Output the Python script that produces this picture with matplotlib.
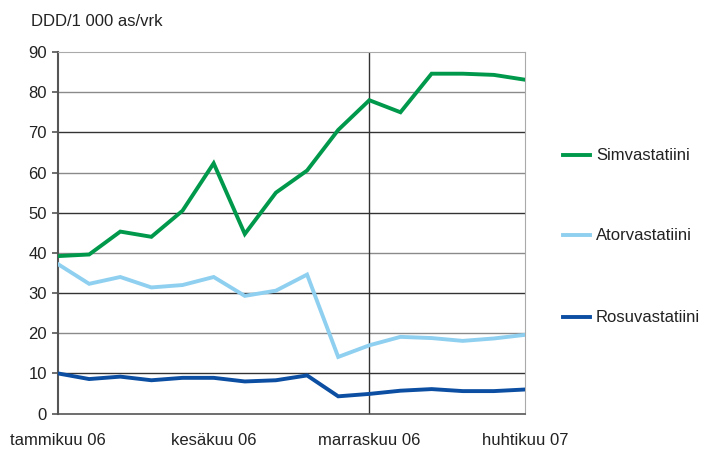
import matplotlib.pyplot as plt

plt.rcParams['font.family'] = ['Liberation Sans', 'DejaVu Sans']

months = list(range(16))
tick_pos = [0, 5, 10, 15]
tick_labels = ['tammikuu 06', 'kesäkuu 06', 'marraskuu 06', 'huhtikuu 07']

simva = [39.2, 39.6, 45.3, 44.0, 50.5, 62.3, 44.7, 55.0, 60.5, 70.6,
         78.0, 75.0, 84.6, 84.6, 84.3, 83.1]
atorva = [37.2, 32.3, 34.0, 31.4, 32.0, 34.0, 29.3, 30.6, 34.6, 14.1,
          17.0, 19.1, 18.8, 18.1, 18.7, 19.6]
rosuva = [10.0, 8.6, 9.2, 8.3, 8.9, 8.9, 8.0, 8.3, 9.5, 4.3,
          4.9, 5.7, 6.1, 5.6, 5.6, 6.0]

fig = plt.figure(figsize=(7.05, 4.5), dpi=100)
ax = fig.add_axes([58 / 705, (450 - 413.6) / 450, (525 - 58) / 705, (413.6 - 52) / 450])

# gridlines alternate darker / lighter like the original
for v in range(10, 90, 10):
    col = '#333333' if (v // 10) % 2 == 1 else '#8a8a8a'
    ax.axhline(v, color=col, lw=1.0, zorder=1)
ax.axvline(10, color='#333333', lw=1.0, zorder=1)

l1, = ax.plot(months, simva, color='#00994C', lw=2.8, zorder=3, solid_joinstyle='miter')
l2, = ax.plot(months, atorva, color='#8FD0F0', lw=2.8, zorder=3, solid_joinstyle='miter')
l3, = ax.plot(months, rosuva, color='#0B4EA2', lw=2.8, zorder=3, solid_joinstyle='miter')

ax.set_xlim(0, 15)
ax.set_ylim(0, 90)
ax.set_yticks(range(0, 91, 10))
ax.set_xticks(tick_pos)
ax.set_xticklabels(tick_labels)
ax.tick_params(axis='y', length=4, width=1.2, color='#555555', labelsize=12, pad=4, labelcolor='#222222')
ax.tick_params(axis='x', length=0, labelsize=12, pad=14, labelcolor='#222222')

ax.spines['left'].set_color('#555555')
ax.spines['left'].set_linewidth(1.5)
ax.spines['bottom'].set_color('#555555')
ax.spines['bottom'].set_linewidth(1.2)
ax.spines['top'].set_color('#aaaaaa')
ax.spines['right'].set_color('#aaaaaa')

fig.text(31 / 705, 1 - 21 / 450, 'DDD/1 000 as/vrk', fontsize=12, color='#222222', va='center')

# legend entries at the right
for line, name, y in [(l1, 'Simvastatiini', 155), (l2, 'Atorvastatiini', 235), (l3, 'Rosuvastatiini', 317)]:
    fy = 1 - y / 450
    fig.add_artist(plt.Line2D([563 / 705, 590 / 705], [fy, fy], color=line.get_color(), lw=2.8))
    fig.text(596 / 705, fy, name, fontsize=12, color='#222222', va='center')

fig.savefig('out.png', dpi=100)
